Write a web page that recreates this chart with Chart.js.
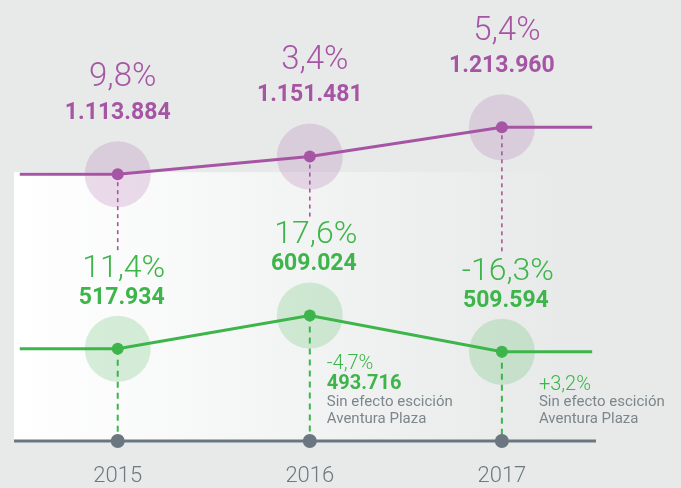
<!DOCTYPE html>
<html>
<head>
<meta charset="utf-8">
<script src="https://cdn.jsdelivr.net/npm/chart.js@4.4.1/dist/chart.umd.min.js"></script>
<style>
  html, body { margin: 0; padding: 0; background: #e7eae9; }
  canvas { display: block; }
</style>
</head>
<body>
<canvas id="myChart" width="681" height="488"></canvas>
<script>
// Data
const years = [2015, 2016, 2017];
const purpleValues = [1113884, 1151481, 1213960];
const purpleChange = [9.8, 3.4, 5.4];
const greenValues = [517934, 609024, 509594];
const greenChange = [11.4, 17.6, -16.3];
// figures "sin efecto escición Aventura Plaza"
const adjustedValues = [null, 493716, null];
const adjustedChange = [null, -4.7, 3.2];
const noteLines = ['Sin efecto escición', 'Aventura Plaza'];

const PURPLE = '#a655a4';
const GREEN = '#3db54a';
const GREY = '#6b7780';
const FONT = 'Roboto, "Open Sans", sans-serif';

// lines run flat a bit before the first and after the last year
const xStart = 2014.49, xEnd = 2017.47;

function lineData(values) {
  const pts = years.map((y, i) => ({ x: y, y: values[i] }));
  return [{ x: xStart, y: values[0] }, ...pts, { x: xEnd, y: values[values.length - 1] }];
}
function haloData(values) {
  return years.map((y, i) => ({ x: y, y: values[i] }));
}
function fmtNum(v) {
  return String(v).replace(/\B(?=(\d{3})+(?!\d))/g, '.');
}
function fmtPct(v, plus) {
  return (plus && v > 0 ? '+' : '') + v.toFixed(1).replace('.', ',') + '%';
}

const decorations = {
  id: 'decorations',
  beforeDraw(chart) {
    const { ctx, chartArea } = chart;
    const top = chart.scales.yP.getPixelForValue(purpleValues[0]) - 2;
    const right = chart.scales.x.getPixelForValue(2017.32);
    const grad = ctx.createLinearGradient(chartArea.left, 0, right, 0);
    grad.addColorStop(0, '#ffffff');
    grad.addColorStop(1, '#e7eae9');
    ctx.save();
    ctx.fillStyle = grad;
    ctx.fillRect(chartArea.left, top, right - chartArea.left, chartArea.bottom - top);
    ctx.restore();
  },
  beforeDatasetsDraw(chart) {
    const { ctx, chartArea, scales } = chart;
    ctx.save();
    // axis line
    ctx.strokeStyle = GREY;
    ctx.lineWidth = 3;
    ctx.beginPath();
    ctx.moveTo(chartArea.left, chartArea.bottom);
    ctx.lineTo(chartArea.right, chartArea.bottom);
    ctx.stroke();

    years.forEach((yr, i) => {
      const x = scales.x.getPixelForValue(yr);
      const pY = scales.yP.getPixelForValue(purpleValues[i]);
      const gY = scales.yG.getPixelForValue(greenValues[i]);
      // purple dashes stop above the green figures
      ctx.strokeStyle = PURPLE;
      ctx.lineWidth = 1.6;
      ctx.setLineDash([4, 4]);
      ctx.beginPath();
      ctx.moveTo(x, pY);
      ctx.lineTo(x, gY - 98);
      ctx.stroke();
      // green dashes run down to the axis
      ctx.strokeStyle = GREEN;
      ctx.lineWidth = 2;
      ctx.setLineDash([6, 5]);
      ctx.beginPath();
      ctx.moveTo(x, gY);
      ctx.lineTo(x, chartArea.bottom);
      ctx.stroke();
    });
    ctx.restore();
  },
  afterDatasetsDraw(chart) {
    const { ctx, chartArea, scales } = chart;
    ctx.save();
    ctx.textBaseline = 'middle';
    years.forEach((yr, i) => {
      const x = scales.x.getPixelForValue(yr);
      const pY = scales.yP.getPixelForValue(purpleValues[i]);
      const gY = scales.yG.getPixelForValue(greenValues[i]);
      const b = chartArea.bottom;

      // axis dots and year labels
      ctx.fillStyle = GREY;
      ctx.beginPath();
      ctx.arc(x, b, 7, 0, Math.PI * 2);
      ctx.fill();
      ctx.textAlign = 'center';
      ctx.fillStyle = '#6e7a82';
      ctx.font = '300 22px ' + FONT;
      ctx.fillText(String(yr), x, b + 35);

      ctx.fillStyle = PURPLE;
      ctx.font = '300 33px ' + FONT;
      ctx.fillText(fmtPct(purpleChange[i]), x + 5, pY - 96);
      ctx.font = 'bold 23px ' + FONT;
      ctx.fillText(fmtNum(purpleValues[i]), x, pY - 61);

      ctx.fillStyle = GREEN;
      ctx.font = '300 32px ' + FONT;
      ctx.fillText(fmtPct(greenChange[i]), x + 6, gY - 80);
      ctx.font = 'bold 23px ' + FONT;
      ctx.fillText(fmtNum(greenValues[i]), x + 4, gY - 51);

      // notes without the Aventura Plaza spin-off
      if (adjustedChange[i] !== null) {
        const hasValue = adjustedValues[i] !== null;
        const nx = x + (hasValue ? 17 : 37);
        ctx.textAlign = 'left';
        ctx.fillStyle = GREEN;
        ctx.font = '300 20px ' + FONT;
        ctx.fillText(fmtPct(adjustedChange[i], true), nx, hasValue ? b - 77 : b - 56);
        if (hasValue) {
          ctx.font = 'bold 20px ' + FONT;
          ctx.fillText(fmtNum(adjustedValues[i]), nx, b - 57);
        }
        ctx.fillStyle = '#7c868b';
        ctx.font = '15px ' + FONT;
        ctx.fillText(noteLines[0], nx, b - 39);
        ctx.fillText(noteLines[1], nx, b - 22);
      }
    });
    ctx.restore();
  }
};

const ctx = document.getElementById('myChart').getContext('2d');
new Chart(ctx, {
  type: 'line',
  data: {
    datasets: [
      {
        data: lineData(purpleValues),
        yAxisID: 'yP',
        borderColor: PURPLE,
        borderWidth: 3,
        pointRadius: [0, 6, 6, 6, 0],
        pointBackgroundColor: PURPLE,
        pointBorderWidth: 0,
        order: 1
      },
      {
        data: lineData(greenValues),
        yAxisID: 'yG',
        borderColor: GREEN,
        borderWidth: 3,
        pointRadius: [0, 6, 6, 6, 0],
        pointBackgroundColor: GREEN,
        pointBorderWidth: 0,
        order: 1
      },
      {
        data: haloData(purpleValues),
        yAxisID: 'yP',
        showLine: false,
        pointRadius: 33,
        pointBackgroundColor: 'rgba(166, 85, 164, 0.2)',
        pointBorderWidth: 0,
        order: 3
      },
      {
        data: haloData(greenValues),
        yAxisID: 'yG',
        showLine: false,
        pointRadius: 33,
        pointBackgroundColor: 'rgba(61, 181, 74, 0.2)',
        pointBorderWidth: 0,
        order: 3
      }
    ]
  },
  options: {
    responsive: false,
    animation: false,
    layout: { autoPadding: false, padding: { left: 14, right: 85, top: 0, bottom: 47 } },
    scales: {
      x: { type: 'linear', display: false, min: 2014.46, max: 2017.49 },
      yP: { display: false, min: 543900, max: 1485900 },
      yG: { display: false, min: 265700, max: 1471600 }
    },
    plugins: {
      legend: { display: false },
      tooltip: { enabled: false }
    }
  },
  plugins: [decorations]
});
</script>
</body>
</html>
